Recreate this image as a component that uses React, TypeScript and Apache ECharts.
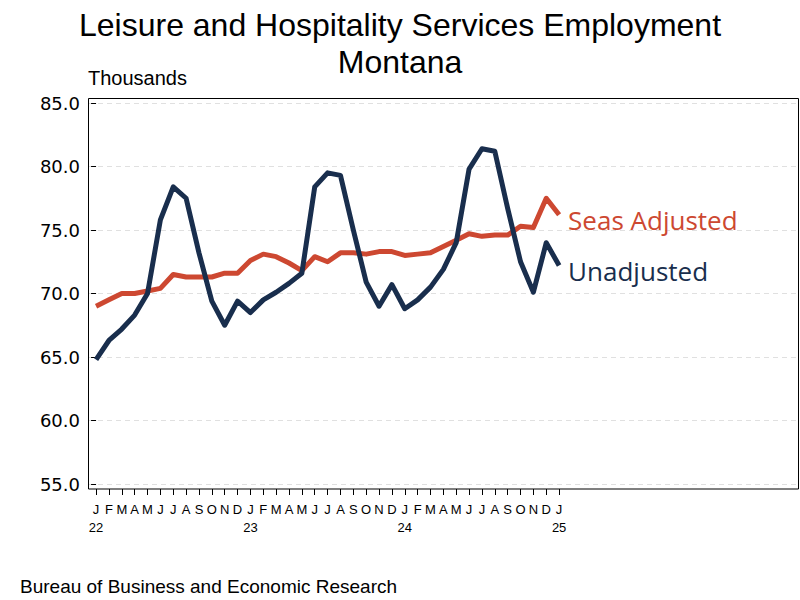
import React, { useEffect, useRef } from "react";
import * as echarts from "echarts";

const monthLetters = ["J", "F", "M", "A", "M", "J", "J", "A", "S", "O", "N", "D"];
const years = ["22", "23", "24", "25"];

const unadjusted = [
  64.8, 66.3, 67.2, 68.3, 70.0, 75.8, 78.4, 77.5, 73.2, 69.4, 67.5, 69.4,
  68.5, 69.5, 70.1, 70.8, 71.6, 78.4, 79.5, 79.3, 75.0, 70.9, 69.0, 70.7,
  68.8, 69.5, 70.5, 71.9, 74.0, 79.8, 81.4, 81.2, 76.7, 72.5, 70.1, 74.0,
  72.2,
];

const seasAdjusted = [
  69.0, 69.5, 70.0, 70.0, 70.2, 70.4, 71.5, 71.3, 71.3, 71.3, 71.6, 71.6,
  72.6, 73.1, 72.9, 72.4, 71.8, 72.9, 72.5, 73.2, 73.2, 73.1, 73.3, 73.3,
  73.0, 73.1, 73.2, 73.7, 74.2, 74.7, 74.5, 74.6, 74.6, 75.3, 75.2, 77.5,
  76.2,
];

const RED = "#cd4831";
const NAVY = "#192e4d";

export default function App() {
  const ref = useRef<HTMLDivElement>(null);

  useEffect(() => {
    if (!ref.current) return;
    const chart = echarts.init(ref.current, null, { renderer: "svg" });
    const idx = unadjusted.map((_, i) => i);
    const monthLabel = (i: number) => {
      const m = monthLetters[i % 12];
      if (i % 12 === 0) return m + "\n" + years[i / 12];
      return m;
    };

    chart.setOption({
      animation: false,
      backgroundColor: "#ffffff",
      title: {
        text: "Leisure and Hospitality Services Employment\nMontana",
        left: "center",
        top: 1,
        textStyle: {
          fontFamily: "Liberation Sans",
          fontSize: 32,
          fontWeight: "normal",
          lineHeight: 37,
          color: "#000",
        },
      },
      graphic: [
        {
          type: "rect",
          z: 100,
          silent: true,
          shape: { x: 88.5, y: 98.5, width: 710, height: 390.5 },
          style: { fill: "none", stroke: "#000", lineWidth: 1 },
        },
        {
          type: "text",
          left: 88,
          top: 68,
          style: {
            text: "Thousands",
            fontFamily: "Liberation Sans",
            fontSize: 20,
            fill: "#000",
          },
        },
        {
          type: "text",
          left: 20,
          top: 577,
          style: {
            text: "Bureau of Business and Economic Research",
            fontFamily: "Liberation Sans",
            fontSize: 19,
            fill: "#000",
          },
        },
      ],
      grid: {
        left: 89,
        top: 103,
        right: 1,
        bottom: 116,
        show: false,
      },
      xAxis: {
        type: "value",
        min: -0.55,
        max: 54.65,
        offset: 5,
        splitLine: { show: false },
        axisLine: { show: false },
        axisTick: {
          show: true,
          length: 6,
          lineStyle: { color: "#000" },
          customValues: idx,
        },
        axisLabel: {
          show: true,
          customValues: idx,
          margin: 11,
          fontFamily: "Liberation Sans",
          fontSize: 13,
          lineHeight: 18,
          color: "#000",
          formatter: (v: number) => monthLabel(Math.round(v)),
        },
      },
      yAxis: {
        type: "value",
        min: 55,
        max: 85,
        interval: 5,
        axisLine: { show: false },
        axisTick: { show: true, length: 5, lineStyle: { color: "#000" } },
        axisLabel: {
          margin: 9,
          fontFamily: "DejaVu Sans",
          fontSize: 18,
          color: "#000",
          formatter: (v: number) => v.toFixed(1),
        },
        splitLine: {
          show: true,
          lineStyle: { color: "#e0e0e0", type: [5, 4], width: 1 },
        },
      },
      series: [
        {
          name: "Seas Adjusted",
          type: "line",
          data: seasAdjusted.map((v, i) => [i, v]),
          showSymbol: false,
          symbol: "none",
          lineStyle: { color: RED, width: 5, join: "round" },
          itemStyle: { color: RED },
          endLabel: {
            show: true,
            formatter: "Seas Adjusted",
            distance: 9,
            offset: [0, 5],
            fontFamily: "Open Sans",
            fontSize: 26,
            color: RED,
          },
        },
        {
          name: "Unadjusted",
          type: "line",
          data: unadjusted.map((v, i) => [i, v]),
          showSymbol: false,
          symbol: "none",
          lineStyle: { color: NAVY, width: 5, join: "round" },
          itemStyle: { color: NAVY },
          endLabel: {
            show: true,
            formatter: "Unadjusted",
            distance: 9,
            offset: [0, 5],
            fontFamily: "Open Sans",
            fontSize: 26,
            color: NAVY,
          },
        },
      ],
    });

    return () => chart.dispose();
  }, []);

  return (
    <div
      ref={ref}
      style={{ position: "fixed", left: 0, top: 0, width: 800, height: 600, background: "#fff" }}
    />
  );
}
